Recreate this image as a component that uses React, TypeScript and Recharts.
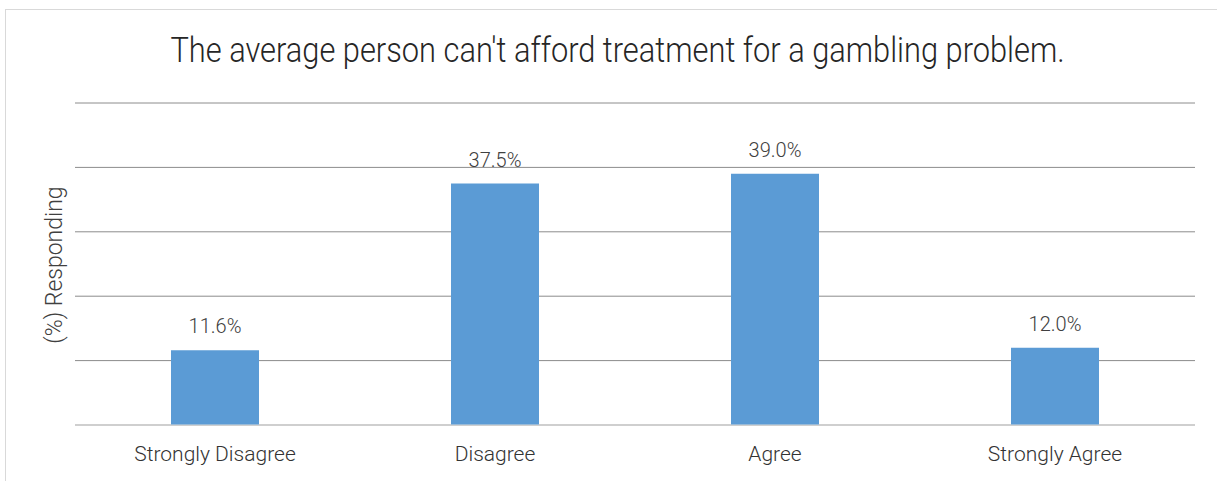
import { BarChart, Bar, XAxis, YAxis, CartesianGrid, LabelList } from "recharts";

const categories = ["Strongly Disagree", "Disagree", "Agree", "Strongly Agree"];
const values = [11.6, 37.5, 39.0, 12.0];
const yTicks = [0, 10, 20, 30, 40, 50];

const data = categories.map((name, i) => ({ name, value: values[i] }));

const font = "Roboto, 'Noto Sans', sans-serif";

export default function App() {
  return (
    <div style={{ position: "absolute", left: 0, top: 0, width: 1217, height: 481, background: "#fff", overflow: "hidden", fontFamily: font }}>
      <div style={{ position: "absolute", left: 5, top: 9, width: 1230, height: 500, border: "1px solid #d9d9d9" }} />
      <div style={{ position: "absolute", left: 0, top: 30, width: 1235, textAlign: "center", fontSize: 35, fontWeight: 300, color: "#262626", lineHeight: "41px", transform: "scaleX(0.88)", whiteSpace: "nowrap" }}>
        The average person can't afford treatment for a gambling problem.
      </div>
      <div style={{ position: "absolute", left: 55, top: 265, transform: "translate(-50%, -50%) rotate(-90deg)", fontSize: 23, fontWeight: 300, color: "#404040", whiteSpace: "nowrap", lineHeight: "28px" }}>
        (%) Responding
      </div>
      <div style={{ position: "absolute", left: 0, top: 0 }}>
        <BarChart width={1217} height={481} data={data} margin={{ top: 103, right: 22, bottom: 26, left: 75 }} barCategoryGap={96}>
          <CartesianGrid vertical={false} stroke="#8c8c8c" />
          <YAxis hide domain={[0, 50]} ticks={yTicks} />
          <XAxis
            dataKey="name"
            height={30}
            axisLine={{ stroke: "#d9d9d9" }}
            tickLine={false}
            tick={{ fill: "#333333", fontSize: 21, fontWeight: 300, fontFamily: font }}
            tickMargin={15}
          />
          <Bar dataKey="value" fill="#5b9bd5" isAnimationActive={false}>
            <LabelList
              dataKey="value"
              position="top"
              offset={17}
              formatter={(v: number) => `${v.toFixed(1)}%`}
              style={{ fill: "#404040", fontSize: 20, fontWeight: 300, fontFamily: font }}
            />
          </Bar>
        </BarChart>
      </div>
    </div>
  );
}
